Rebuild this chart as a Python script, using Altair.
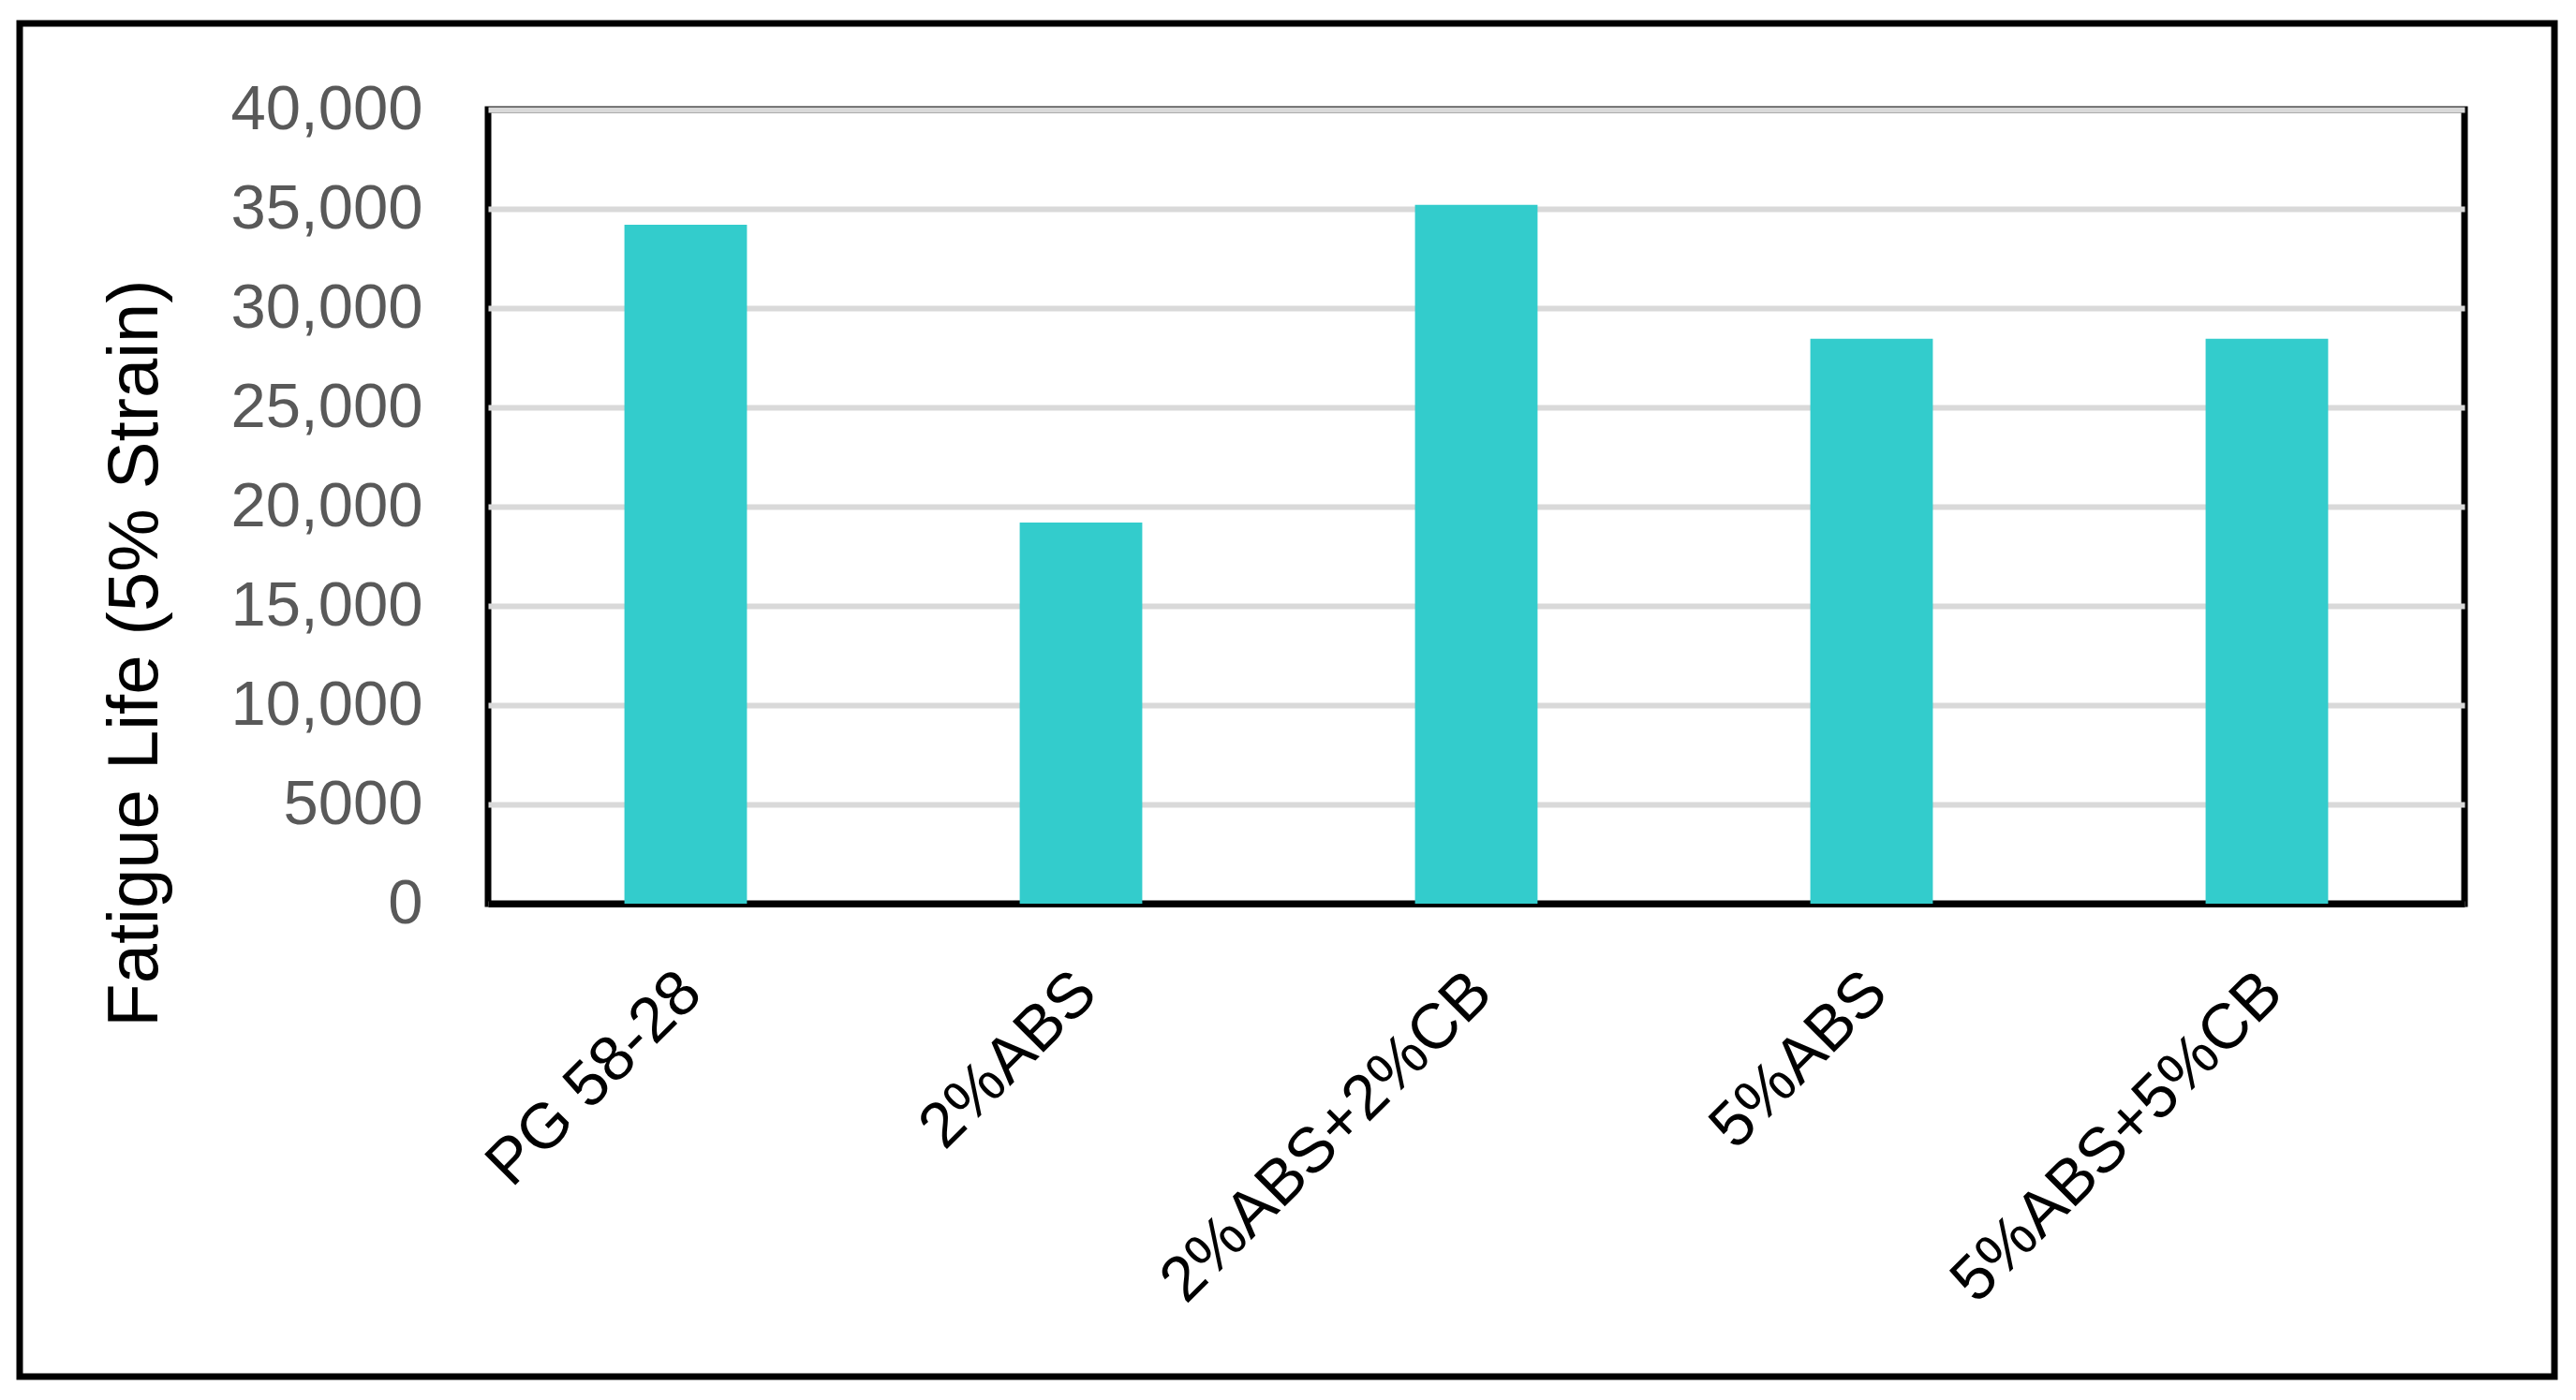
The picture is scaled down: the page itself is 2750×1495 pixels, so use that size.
import altair as alt
import pandas as pd

categories = ["PG 58-28", "2%ABS", "2%ABS+2%CB", "5%ABS", "5%ABS+5%CB"]
values = [34200, 19200, 35200, 28450, 28450]
y_ticks = [0, 5000, 10000, 15000, 20000, 25000, 30000, 35000, 40000]

df = pd.DataFrame({"cat": categories, "val": values})

W, H = 2110, 848

bars = alt.Chart(df).mark_bar(color="#33CCCC").encode(
    x=alt.X("cat:N", sort=categories, title=None,
            scale=alt.Scale(paddingInner=0.69, paddingOuter=0.345),
            axis=alt.Axis(labelAngle=-45, labelFontSize=68, labelColor="#000000",
                          labelFont="Liberation Sans", labelPadding=60, labelOffset=-18,
                          ticks=False, labelLimit=0,
                          domain=True, domainColor="#000000", domainWidth=7, grid=False)),
    y=alt.Y("val:Q", scale=alt.Scale(domain=[0, 40000], nice=False),
            axis=alt.Axis(values=y_ticks, grid=True, gridColor="#d9d9d9", gridWidth=6,
                          domain=False, ticks=False, labelFontSize=67, labelColor="#595959",
                          labelFont="Liberation Sans", labelPadding=70, labelLimit=0,
                          labelExpr="datum.value >= 10000 ? format(datum.value, ',') : format(datum.value, 'd')",
                          title="Fatigue Life (5% Strain)", titleFontSize=76, titleFont="Liberation Sans",
                          titleFontWeight="normal", titleColor="#000000",
                          titleX=-377, titleY=580, titleAngle=270, titleAlign="center",
                          titleBaseline="middle")),
)

border = alt.Chart(alt.Data(values=[{"a": 1}])).mark_rect(
    fill=None, stroke="#000000", strokeWidth=7
).encode(
    x=alt.value(-500), x2=alt.value(2206), y=alt.value(-92), y2=alt.value(1353)
)

chart = alt.layer(border, bars).properties(
    width=W, height=H,
    autosize=alt.AutoSizeParams(type="none"),
    padding={"left": 513, "top": 109, "right": 111, "bottom": 517},
    background="#ffffff",
).configure_view(stroke="#000000", strokeWidth=7)

chart.save("out.html", embed_options={"renderer": "svg", "actions": False})
